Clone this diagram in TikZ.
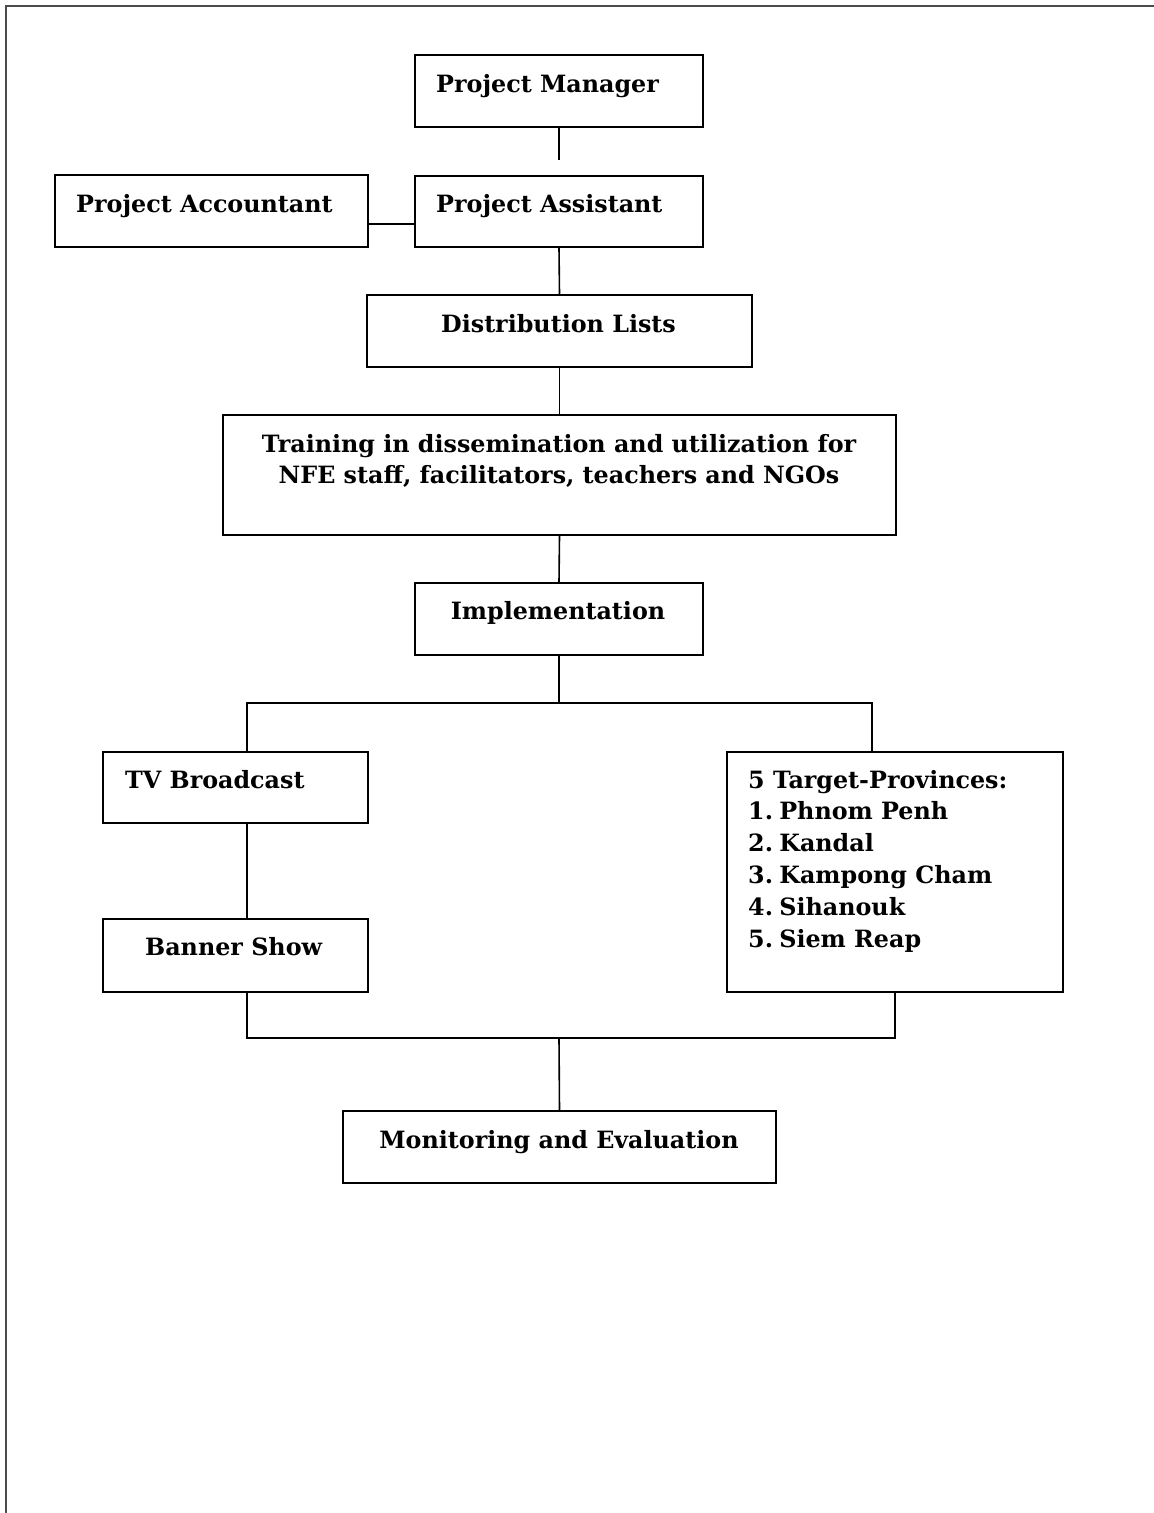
\documentclass[tikz,border=0pt]{standalone}
\usepackage{fontspec}
\setmainfont{DejaVu Serif}
\usetikzlibrary{calc}
\begin{document}
\begin{tikzpicture}[x=1pt,y=-1pt,
  boxst/.style={draw=black, line width=1.6pt, rectangle, inner sep=0pt, minimum width=#1},
  txt/.style={font=\fontsize{23.8}{31.5}\selectfont\bfseries, inner sep=0pt, text=black},
  conn/.style={draw=black, line width=1.6pt}]
\useasboundingbox (0,0) rectangle (1154,1513);
\draw[line width=2.6pt, color=black!70] (6,1513) -- (6,6) -- (1154,6);

% boxes
\node[boxst=288pt, minimum height=72pt] (pm) at (559,91) {};
\node[boxst=288pt, minimum height=71pt] (pa) at (559,211.5) {};
\node[boxst=313pt, minimum height=72pt] (pacc) at (211.5,211) {};
\node[boxst=385pt, minimum height=72pt] (dl) at (559.5,331) {};
\node[boxst=673pt, minimum height=120pt] (tr) at (559.5,475) {};
\node[boxst=288pt, minimum height=72pt] (impl) at (559,619) {};
\node[boxst=265pt, minimum height=71pt] (tv) at (235.5,787.5) {};
\node[boxst=265pt, minimum height=73pt] (ban) at (235.5,955.5) {};
\node[boxst=336pt, minimum height=240pt] (tgt) at (895,872) {};
\node[boxst=433pt, minimum height=72pt] (me) at (559.5,1147) {};

% texts
\node[txt, anchor=base west] (pmt) at (436,92) {Project Manager};
\node[txt, anchor=base west] (pat) at (436,212) {Project Assistant};
\node[txt, anchor=base west] (pacct) at (76,212) {Project Accountant};
\node[txt, anchor=base] (dlt) at (558.5,332) {Distribution Lists};
\node[txt, anchor=base] (trt1) at (559,452) {Training in dissemination and utilization for};
\node[txt, anchor=base] (trt2) at (559,483) {NFE staff, facilitators, teachers and NGOs};
\node[txt, anchor=base] (implt) at (558,619) {Implementation};
\node[txt, anchor=base west] (tvt) at (125,788) {TV Broadcast};
\node[txt, anchor=base west] (bant) at (145,955) {Banner Show};
\node[txt, anchor=base west] (tg0) at (748,788) {5 Target-Provinces:};
\node[txt, anchor=base west] (tg1) at (748,819.5) {1.\kern-2pt\ Phnom Penh};
\node[txt, anchor=base west] (tg2) at (748,851) {2.\kern-2pt\ Kandal};
\node[txt, anchor=base west] (tg3) at (748,883) {3.\kern-2pt\ Kampong Cham};
\node[txt, anchor=base west] (tg4) at (748,915) {4.\kern-2pt\ Sihanouk};
\node[txt, anchor=base west] (tg5) at (748,947) {5.\kern-2pt\ Siem Reap};
\node[txt, anchor=base] (met) at (559,1148) {Monitoring and Evaluation};

% connectors
\coordinate (pmend) at ([yshift=-32pt]pm.south);
\draw[conn] (pm.south) -- (pmend);
\coordinate (aj) at ([yshift=24pt]pacc.south east);
\draw[conn] (aj) -- (aj -| pa.west);
\draw[conn] (pa.south) -- (dl.north);
\draw[conn] (dl.south) -- (tr.north);
\draw[conn] (tr.south) -- (impl.north);
\coordinate (jt) at (559,703);
\coordinate (jb) at (559,1038);
\draw[conn] (impl.south) -- (jt);
\draw[conn] ([xshift=11.5pt]tv.north) |- (jt) -| ([xshift=-23pt]tgt.north);
\draw[conn] ([xshift=11.5pt]tv.south) -- ([xshift=11.5pt]ban.north);
\draw[conn] ([xshift=11.5pt]ban.south) |- (jb) -| (tgt.south);
\draw[conn] (jb) -- (me.north);
\end{tikzpicture}
\end{document}
